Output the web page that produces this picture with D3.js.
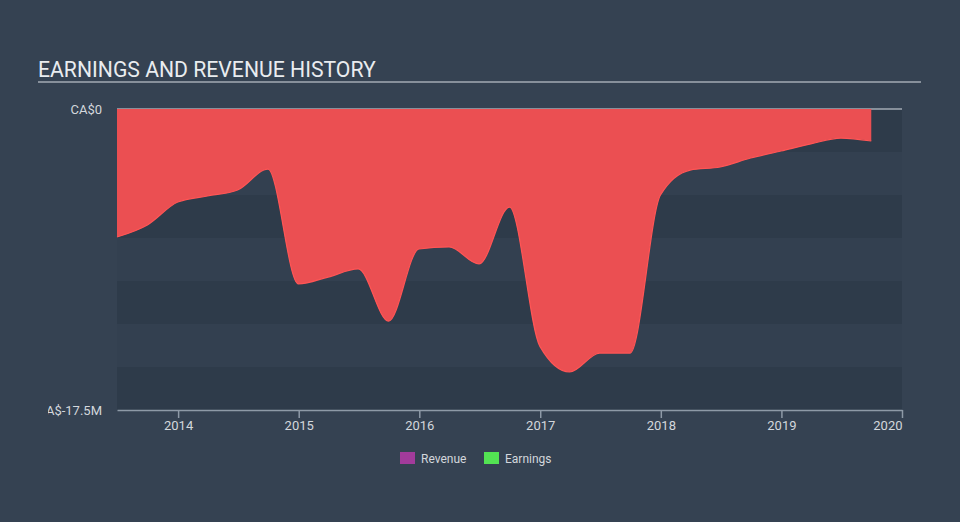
<!DOCTYPE html>
<html>
<head>
<meta charset="utf-8">
<script src="https://cdn.jsdelivr.net/npm/d3@7"></script>
<style>
  html, body { margin: 0; padding: 0; background: #354252; }
  svg { display: block; font-family: Roboto, "Open Sans", sans-serif; }
</style>
</head>
<body>
<svg id="chart" width="960" height="522"></svg>
<script>
// ---- data (CA$ millions, trailing earnings) ----
const dates = ["2013-06-30","2013-09-30","2013-12-31","2014-03-31","2014-06-30","2014-09-30",
  "2014-12-31","2015-03-31","2015-06-30","2015-09-30","2015-12-31","2016-03-31","2016-06-30",
  "2016-09-30","2016-12-31","2017-03-31","2017-06-30","2017-09-30","2017-12-31","2018-03-31",
  "2018-06-30","2018-09-30","2018-12-31","2019-03-31","2019-06-30","2019-09-30"];
const earnings = [-7.44,-6.74,-5.41,-5.06,-4.71,-3.49,
  -10.17,-9.77,-9.30,-12.33,-8.14,-8.02,-9.01,
  -5.70,-13.8,-15.29,-14.19,-14.19,-5.0,-3.55,
  -3.37,-2.85,-2.44,-2.03,-1.69,-1.86];
const yTickValues = [0, -17.5];
const yTickLabels = ["CA$0", "CA$-17.5M"];
const xTickYears = [2014, 2015, 2016, 2017, 2018, 2019, 2020];
const legendNames = ["Revenue", "Earnings"];
const legendColors = ["#a23b9b", "#53e353"];

(function () {
const svg = d3.select("#chart");
const W = 960, H = 522;
const pL = 117, pR = 902, pT = 109, pB = 410;

const parse = d3.timeParse("%Y-%m-%d");
const pts = dates.map((d, i) => ({ date: parse(d), v: earnings[i] }));

const x = d3.scaleTime()
  .domain([parse("2013-06-30"), new Date(2020, 0, 1)])
  .range([pL, pR]);
const y = d3.scaleLinear().domain([-17.5, 0]).range([pB, pT]);

// background
svg.append("rect").attr("width", W).attr("height", H).attr("fill", "#354252");

// plot bands
const bandStep = 2.5;
for (let i = 0; i < 7; i++) {
  const v0 = -i * bandStep, v1 = -(i + 1) * bandStep;
  svg.append("rect")
    .attr("x", pL).attr("width", pR - pL)
    .attr("y", y(v0)).attr("height", y(v1) - y(v0))
    .attr("fill", i % 2 === 0 ? "#2e3b4a" : "#334050");
}

// title
svg.append("text").attr("x", 38).attr("y", 77)
  .attr("fill", "#e9ecef").attr("font-size", 21.2).attr("font-weight", 400)
  .text("EARNINGS AND REVENUE HISTORY");
svg.append("line").attr("x1", 38).attr("x2", 921).attr("y1", 82).attr("y2", 82)
  .attr("stroke", "#a3abb4").attr("stroke-width", 1.5);

// zero line
svg.append("line").attr("x1", pL).attr("x2", pR).attr("y1", y(0)).attr("y2", y(0))
  .attr("stroke", "#a3abb4").attr("stroke-width", 1.5);

// earnings area
const area = d3.area().curve(d3.curveMonotoneX)
  .x(d => x(d.date)).y0(y(0)).y1(d => y(d.v));
svg.append("path").datum(pts).attr("d", area).attr("fill", "#eb4f52");
const line = d3.line().curve(d3.curveMonotoneX).x(d => x(d.date)).y(d => y(d.v));
svg.append("path").datum(pts).attr("d", line)
  .attr("fill", "none").attr("stroke", "#ff5555").attr("stroke-width", 1.2);

// x axis
const xAxis = d3.axisBottom(x)
  .tickValues(xTickYears.map(yr => new Date(yr, 0, 1)))
  .tickFormat(d3.timeFormat("%Y"))
  .tickSize(8).tickSizeOuter(0);
const gx = svg.append("g").attr("transform", `translate(0,${pB})`).call(xAxis);
gx.select(".domain").attr("stroke", "#8e9aa7").attr("stroke-width", 1.5);
gx.selectAll(".tick line").attr("stroke", "#8e9aa7").attr("stroke-width", 1.5);
gx.selectAll(".tick text").attr("fill", "#d3d7dc").attr("font-size", 13)
  .attr("font-family", "Roboto, sans-serif");
gx.selectAll(".tick text").filter(d => d.getFullYear() === 2020).attr("text-anchor", "end");

// y labels (clipped on left)
svg.append("clipPath").attr("id", "yclip").append("rect")
  .attr("x", 48).attr("y", 90).attr("width", 70).attr("height", 340);
const gy = svg.append("g").attr("clip-path", "url(#yclip)");
gy.selectAll("text").data(yTickValues).join("text")
  .attr("x", 102).attr("y", d => y(d)).attr("dy", "0.35em")
  .attr("text-anchor", "end").attr("fill", "#d3d7dc").attr("font-size", 13)
  .text((d, i) => yTickLabels[i]);

// legend
const legX = [400, 484];
legendNames.forEach((n, i) => {
  svg.append("rect").attr("x", legX[i]).attr("y", 452).attr("width", 15).attr("height", 12)
    .attr("fill", legendColors[i]);
  svg.append("text").attr("x", legX[i] + 21).attr("y", 462.5).attr("fill", "#d3d7dc")
    .attr("font-size", 12).text(n);
});
})();
</script>
</body>
</html>
